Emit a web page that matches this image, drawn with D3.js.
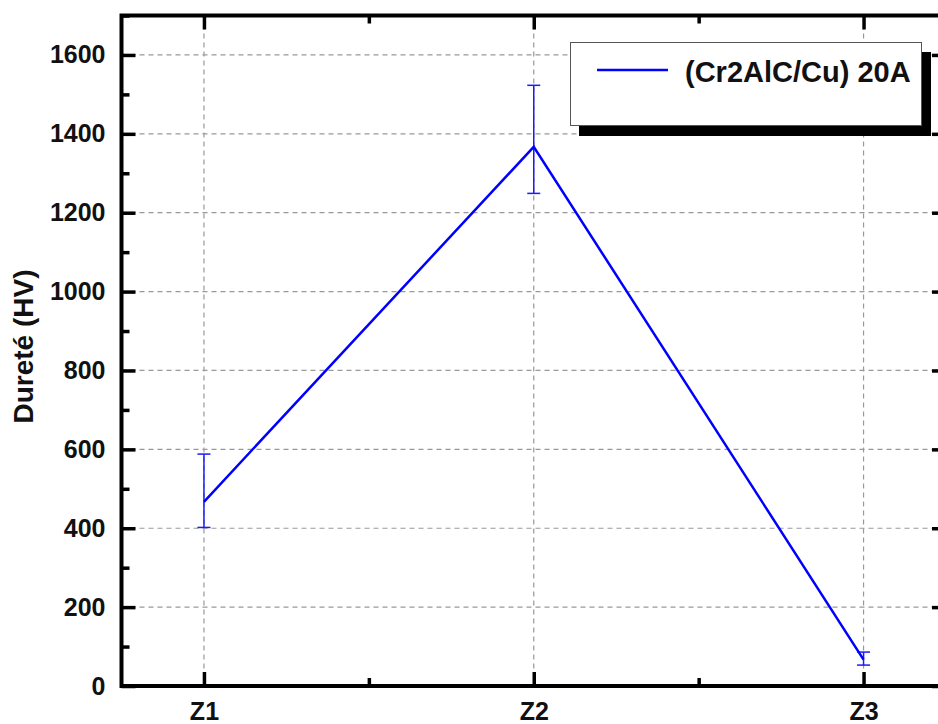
<!DOCTYPE html>
<html>
<head>
<meta charset="utf-8">
<script src="https://cdn.jsdelivr.net/npm/d3@7"></script>
<style>
  body { margin: 0; background: #fff; }
  svg text { font-family: "Liberation Sans", Arial, Helvetica, sans-serif; font-weight: bold; }
</style>
</head>
<body>
<div class="chart"></div>
<script>
// data
var zones = ["Z1", "Z2", "Z3"];
var zonePos = [1, 2, 3];
var hardness = [467, 1367, 67];
var errHigh = [588, 1523, 86];
var errLow = [402, 1249, 53];
var yTicks = [0, 200, 400, 600, 800, 1000, 1200, 1400, 1600];
var yMinor = [100, 300, 500, 700, 900, 1100, 1300, 1500, 1700];
var xMinor = [1.5, 2.5];
var seriesName = "(Cr2AlC/Cu) 20A";

var svgWidth = 938;
var svgHeight = 724;

var plot = { left: 121.5, right: 946, top: 15.5, bottom: 686 };

var svg = d3.select(".chart")
  .append("svg")
  .attr("width", svgWidth)
  .attr("height", svgHeight);

var x = d3.scaleLinear().domain([0.75, 3.25]).range([plot.left, plot.right]);
var y = d3.scaleLinear().domain([0, 1700]).range([plot.bottom, plot.top]);

var data = zones.map(function(z, i) {
  return { zone: z, pos: zonePos[i], v: hardness[i], hi: errHigh[i], lo: errLow[i] };
});

// grid lines
var grid = svg.append("g").attr("class", "grid");
grid.selectAll("line.h")
  .data(yTicks.slice(1))
  .enter().append("line")
  .attr("x1", plot.left).attr("x2", plot.right)
  .attr("y1", d => y(d)).attr("y2", d => y(d))
  .attr("stroke", "#999").attr("stroke-width", 1.2)
  .attr("stroke-dasharray", "5,4");
grid.selectAll("line.v")
  .data(zonePos)
  .enter().append("line")
  .attr("x1", d => x(d)).attr("x2", d => x(d))
  .attr("y1", plot.top).attr("y2", plot.bottom)
  .attr("stroke", "#999").attr("stroke-width", 1.2)
  .attr("stroke-dasharray", "5,4");

// axes
function styleAxis(g) {
  g.attr("font-family", null).attr("font-size", null);
  g.select(".domain").remove();
  g.selectAll(".tick line").attr("stroke", "#000").attr("stroke-width", 3.5);
  g.selectAll(".tick text").attr("fill", "#111").style("font-size", "25px");
}

svg.append("g")
  .attr("transform", `translate(${plot.left},0)`)
  .call(d3.axisLeft(y).tickValues(yTicks).tickSize(-14).tickPadding(16).tickFormat(d3.format("d")))
  .call(styleAxis);
svg.append("g")
  .attr("transform", `translate(${plot.left},0)`)
  .call(d3.axisLeft(y).tickValues(yMinor).tickSize(-8).tickFormat(""))
  .call(styleAxis);
svg.append("g")
  .attr("transform", `translate(${plot.right},0)`)
  .call(d3.axisRight(y).tickValues(yTicks).tickSize(-14).tickFormat(""))
  .call(styleAxis);
svg.append("g")
  .attr("transform", `translate(${plot.right},0)`)
  .call(d3.axisRight(y).tickValues(yMinor).tickSize(-8).tickFormat(""))
  .call(styleAxis);

svg.append("g")
  .attr("transform", `translate(0,${plot.bottom})`)
  .call(d3.axisBottom(x).tickValues(zonePos).tickSize(-14).tickPadding(16)
    .tickFormat((d, i) => zones[i]))
  .call(styleAxis);
svg.append("g")
  .attr("transform", `translate(0,${plot.bottom})`)
  .call(d3.axisBottom(x).tickValues(xMinor).tickSize(-8).tickFormat(""))
  .call(styleAxis);
svg.append("g")
  .attr("transform", `translate(0,${plot.top})`)
  .call(d3.axisTop(x).tickValues(zonePos).tickSize(-14).tickFormat(""))
  .call(styleAxis);
svg.append("g")
  .attr("transform", `translate(0,${plot.top})`)
  .call(d3.axisTop(x).tickValues(xMinor).tickSize(-8).tickFormat(""))
  .call(styleAxis);

// frame
svg.append("rect")
  .attr("x", plot.left).attr("y", plot.top)
  .attr("width", plot.right - plot.left).attr("height", plot.bottom - plot.top)
  .attr("fill", "none").attr("stroke", "#000").attr("stroke-width", 4);

// y axis title
svg.append("text")
  .attr("transform", `translate(33,${(268 + 425) / 2}) rotate(-90)`)
  .attr("text-anchor", "middle")
  .attr("fill", "#111")
  .style("font-size", "28px")
  .text("Dureté (HV)");

// error bars
var errs = svg.append("g").attr("stroke", "#1a1aff").attr("stroke-width", 1.5);
errs.selectAll("line.stem")
  .data(data).enter().append("line")
  .attr("x1", d => x(d.pos)).attr("x2", d => x(d.pos))
  .attr("y1", d => y(d.hi)).attr("y2", d => y(d.lo));
errs.selectAll("line.capHi")
  .data(data).enter().append("line")
  .attr("x1", d => x(d.pos) - 6.5).attr("x2", d => x(d.pos) + 6.5)
  .attr("y1", d => y(d.hi)).attr("y2", d => y(d.hi));
errs.selectAll("line.capLo")
  .data(data).enter().append("line")
  .attr("x1", d => x(d.pos) - 6.5).attr("x2", d => x(d.pos) + 6.5)
  .attr("y1", d => y(d.lo)).attr("y2", d => y(d.lo));

// line
var line = d3.line().x(d => x(d.pos)).y(d => y(d.v));
svg.append("path")
  .datum(data)
  .attr("d", line)
  .attr("fill", "none")
  .attr("stroke", "#0000ff")
  .attr("stroke-width", 2.5);

// legend
var legend = svg.append("g").attr("transform", "translate(570,42)");
legend.append("rect")
  .attr("x", 9).attr("y", 10).attr("width", 352).attr("height", 84)
  .attr("fill", "#000");
legend.append("rect")
  .attr("x", 0.5).attr("y", 0.5).attr("width", 351).attr("height", 83)
  .attr("fill", "#fff").attr("stroke", "#555").attr("stroke-width", 1);
legend.append("line")
  .attr("x1", 27).attr("x2", 98).attr("y1", 28).attr("y2", 28)
  .attr("stroke", "#0000ff").attr("stroke-width", 2.5);
legend.append("text")
  .attr("x", 115).attr("y", 40)
  .attr("fill", "#111")
  .style("font-size", "29px")
  .text(seriesName);
</script>
</body>
</html>
